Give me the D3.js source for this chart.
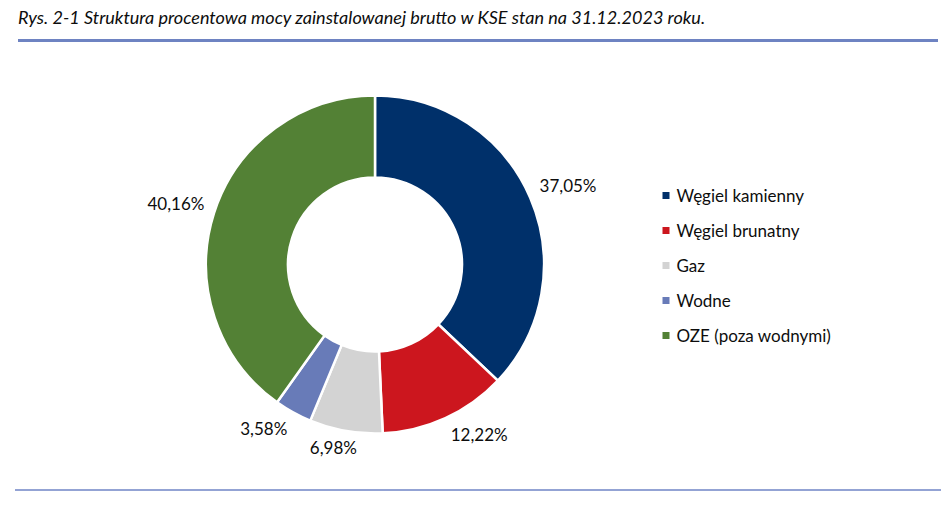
<!DOCTYPE html>
<html>
<head>
<meta charset="utf-8">
<script src="https://cdn.jsdelivr.net/npm/d3@7"></script>
<style>
  body { margin: 0; background: #fff; }
  text { font-family: Lato, "Noto Sans", sans-serif; fill: #0d0d0d; }
</style>
</head>
<body>
<div id="chart"></div>
<script>
// udział mocy zainstalowanej brutto, KSE 31.12.2023
var categories = ["Węgiel kamienny", "Węgiel brunatny", "Gaz", "Wodne", "OZE (poza wodnymi)"];
var values = [37.05, 12.22, 6.98, 3.58, 40.16];
var labels = ["37,05%", "12,22%", "6,98%", "3,58%", "40,16%"];
var colors = ["#00306a", "#cc161e", "#d3d3d3", "#687bb8", "#538135"];

var width = 948, height = 506;
var cx = 375, cy = 264.5, outerR = 169, innerR = 87;

var svg = d3.select("#chart").append("svg")
  .attr("width", width)
  .attr("height", height);

// tytuł
var title = svg.append("text")
  .attr("x", 18)
  .attr("y", 24)
  .style("font-style", "italic")
  .style("font-size", "15px")
  .text("Rys. 2-1 Struktura procentowa mocy zainstalowanej brutto w KSE stan na 31.12.2023 roku.");
// dopasuj szerokość do oryginału
var tw = title.node().getComputedTextLength();
title.style("font-size", (15 * 688 / tw) + "px");

svg.append("line")
  .attr("x1", 18).attr("x2", 938)
  .attr("y1", 40.5).attr("y2", 40.5)
  .attr("stroke", "#6e83c2")
  .attr("stroke-width", 3);

svg.append("line")
  .attr("x1", 15).attr("x2", 941)
  .attr("y1", 490).attr("y2", 490)
  .attr("stroke", "#6f85c6")
  .attr("stroke-width", 1.5);

var pie = d3.pie().sort(null).value(function(d) { return d; });
var arcs = pie(values);

var arc = d3.arc()
  .innerRadius(innerR)
  .outerRadius(outerR);

var g = svg.append("g")
  .attr("transform", "translate(" + cx + "," + cy + ")");

g.selectAll("path")
  .data(arcs)
  .enter()
  .append("path")
  .attr("d", arc)
  .attr("fill", function(d, i) { return colors[i]; })
  .attr("stroke", "#fff")
  .attr("stroke-width", 2.5)
  .attr("stroke-linejoin", "miter");

// etykiety poza łukiem, jak w Excelu
var clamp = function(v) { return Math.max(-1, Math.min(1, v)); };
var lbl = g.selectAll(".lbl")
  .data(arcs)
  .enter()
  .append("text")
  .attr("class", "lbl")
  .style("font-size", "17px")
  .attr("text-anchor", "middle")
  .attr("dominant-baseline", "central")
  .text(function(d, i) { return labels[i]; });

lbl.each(function(d) {
  var a = (d.startAngle + d.endAngle) / 2;
  var s = Math.sin(a), c = -Math.cos(a);
  var bw = this.getComputedTextLength() + 4, bh = 18;
  var R = outerR + 8;
  var x = R * s + clamp(s * 2.5) * bw / 2;
  var y = R * c + clamp(c * 2.5) * bh / 2;
  d3.select(this).attr("x", x).attr("y", y);
});

// legenda
var legend = svg.selectAll(".legend")
  .data(categories)
  .enter()
  .append("g")
  .attr("class", "legend")
  .attr("transform", function(d, i) { return "translate(662.5," + (195.5 + i * 35) + ")"; });

legend.append("rect")
  .attr("x", 0)
  .attr("y", -3.5)
  .attr("width", 7)
  .attr("height", 7)
  .attr("fill", function(d, i) { return colors[i]; });

legend.append("text")
  .attr("x", 14)
  .attr("y", 0)
  .attr("dominant-baseline", "central")
  .style("font-size", "17px")
  .text(function(d) { return d; });
</script>
</body>
</html>
